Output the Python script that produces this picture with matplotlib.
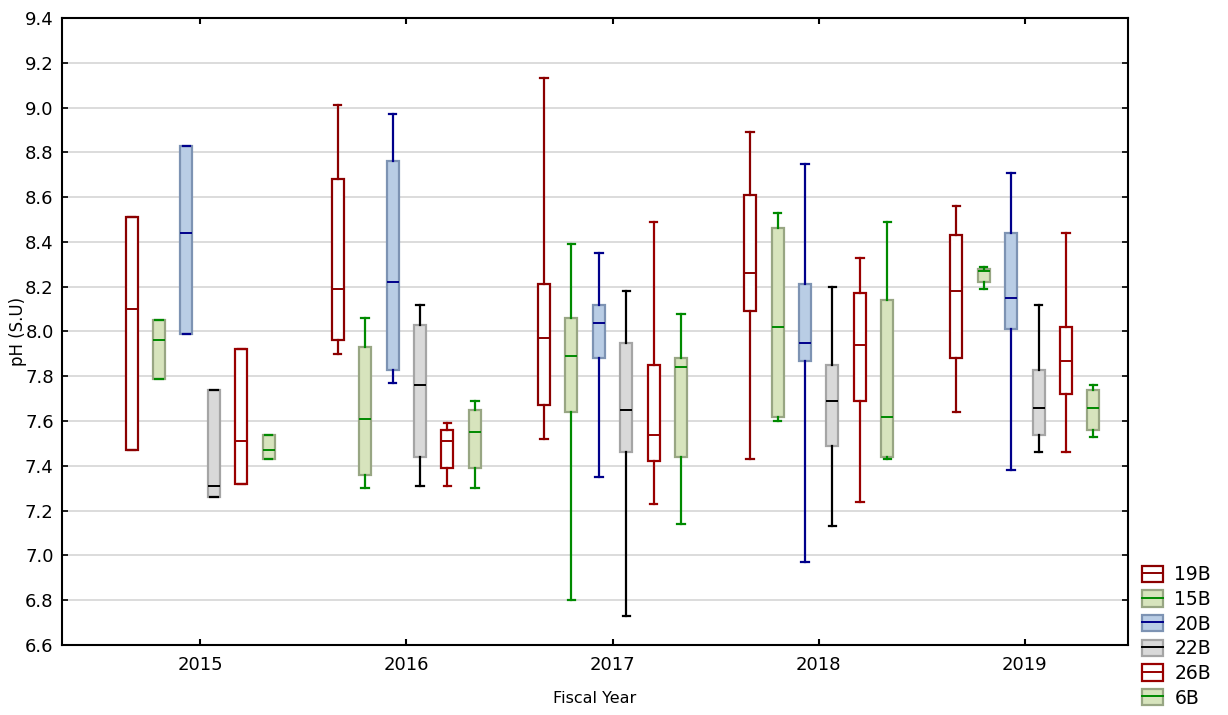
import matplotlib
matplotlib.use("Agg")
import matplotlib.pyplot as plt
from matplotlib.patches import Rectangle
from matplotlib.lines import Line2D
from matplotlib.legend_handler import HandlerTuple

plt.rcParams["font.family"] = ["DejaVu Sans"]

years = [2015, 2016, 2017, 2018, 2019]
stations = ["19B", "15B", "20B", "22B", "26B", "6B"]

# pH summary per fiscal year: (whisker low, Q1, median, Q3, whisker high)
ph_19B = [(7.47, 7.47, 8.10, 8.51, 8.51), (7.90, 7.96, 8.19, 8.68, 9.01),
          (7.52, 7.67, 7.97, 8.21, 9.13), (7.43, 8.09, 8.26, 8.61, 8.89),
          (7.64, 7.88, 8.18, 8.43, 8.56)]
ph_15B = [(7.79, 7.79, 7.96, 8.05, 8.05), (7.30, 7.36, 7.61, 7.93, 8.06),
          (6.80, 7.64, 7.89, 8.06, 8.39), (7.60, 7.62, 8.02, 8.46, 8.53),
          (8.19, 8.22, 8.27, 8.28, 8.29)]
ph_20B = [(7.99, 7.99, 8.44, 8.83, 8.83), (7.77, 7.83, 8.22, 8.76, 8.97),
          (7.35, 7.88, 8.04, 8.12, 8.35), (6.97, 7.87, 7.95, 8.21, 8.75),
          (7.38, 8.01, 8.15, 8.44, 8.71)]
ph_22B = [(7.26, 7.26, 7.31, 7.74, 7.74), (7.31, 7.44, 7.76, 8.03, 8.12),
          (6.73, 7.46, 7.65, 7.95, 8.18), (7.13, 7.49, 7.69, 7.85, 8.20),
          (7.46, 7.54, 7.66, 7.83, 8.12)]
ph_26B = [(7.32, 7.32, 7.51, 7.92, 7.92), (7.31, 7.39, 7.51, 7.56, 7.59),
          (7.23, 7.42, 7.54, 7.85, 8.49), (7.24, 7.69, 7.94, 8.17, 8.33),
          (7.46, 7.72, 7.87, 8.02, 8.44)]
ph_6B = [(7.43, 7.43, 7.47, 7.54, 7.54), (7.30, 7.39, 7.55, 7.65, 7.69),
         (7.14, 7.44, 7.84, 7.88, 8.08), (7.43, 7.44, 7.62, 8.14, 8.49),
         (7.53, 7.56, 7.66, 7.74, 7.76)]

series = [ph_19B, ph_15B, ph_20B, ph_22B, ph_26B, ph_6B]

# (fill, box edge, median, whisker) colours per station
styles = [
    ("white", "#8B0000", "#8B0000", "#8B0000"),
    ("#D7E4BD", "#98A683", "#008A00", "#008A00"),
    ("#B9CDE5", "#7D93B3", "#00008B", "#00008B"),
    ("#D9D9D9", "#A5A5A5", "black", "black"),
    ("white", "#990000", "#990000", "#990000"),
    ("#D7E4BD", "#98A683", "#008A00", "#008A00"),
]

fig = plt.figure(figsize=(12.28, 7.15), dpi=100)
ax = fig.add_axes([62 / 1228, 70 / 715, 1066 / 1228, 627 / 715])

step = 0.133
box_w = 0.058
cap_w = 0.036

for i, (data, (fc, ec, mc, wc)) in enumerate(zip(series, styles)):
    stats = [dict(whislo=lo, q1=q1, med=md, q3=q3, whishi=hi)
             for lo, q1, md, q3, hi in data]
    pos = [y + (i - 2.5) * step for y in years]
    ax.bxp(stats, positions=pos, widths=box_w, capwidths=cap_w,
           showfliers=False, patch_artist=True, manage_ticks=False,
           boxprops=dict(facecolor=fc, edgecolor=ec, linewidth=1.6),
           medianprops=dict(color=mc, linewidth=1.4),
           whiskerprops=dict(color=wc, linewidth=1.6),
           capprops=dict(color=wc, linewidth=1.6))

ax.set_xlim(years[0] - 0.67, years[-1] + 0.5)
ax.set_ylim(6.6, 9.4)
ax.set_yticks([6.6 + 0.2 * k for k in range(15)])
ax.set_yticklabels([f"{6.6 + 0.2 * k:.1f}" for k in range(15)])
ax.set_xticks(years)
ax.set_xticklabels([str(y) for y in years])

ax.set_axisbelow(True)
ax.yaxis.grid(True, color="#D9D9D9", linewidth=1.3)
ax.xaxis.grid(False)

ax.tick_params(axis="y", direction="in", length=4, width=1.2, right=True,
               labelsize=13, pad=6)
ax.tick_params(axis="x", direction="in", length=4, width=1.5, top=True,
               labelsize=13, pad=8)
for sp in ax.spines.values():
    sp.set_linewidth(1.5)
    sp.set_color("black")

ax.set_ylabel("pH (S.U)", fontsize=12)
ax.yaxis.set_label_coords(-0.033, 0.5)
ax.set_xlabel("Fiscal Year", fontsize=11.5, labelpad=12)

handles = [(Rectangle((0, 0), 1, 1, facecolor=fc, edgecolor=ec, linewidth=1.6),
            Line2D([], [], color=mc, linewidth=1.4))
           for fc, ec, mc, wc in styles]
fig.legend(handles, stations, handler_map={tuple: HandlerTuple(ndivide=1)},
           loc="lower left", bbox_to_anchor=(1134 / 1228, 0.0),
           frameon=False, fontsize=13.5, handlelength=1.15, handleheight=0.95,
           handletextpad=0.6, labelspacing=0.3, borderaxespad=0.0)

fig.savefig("out.png", dpi=100)
